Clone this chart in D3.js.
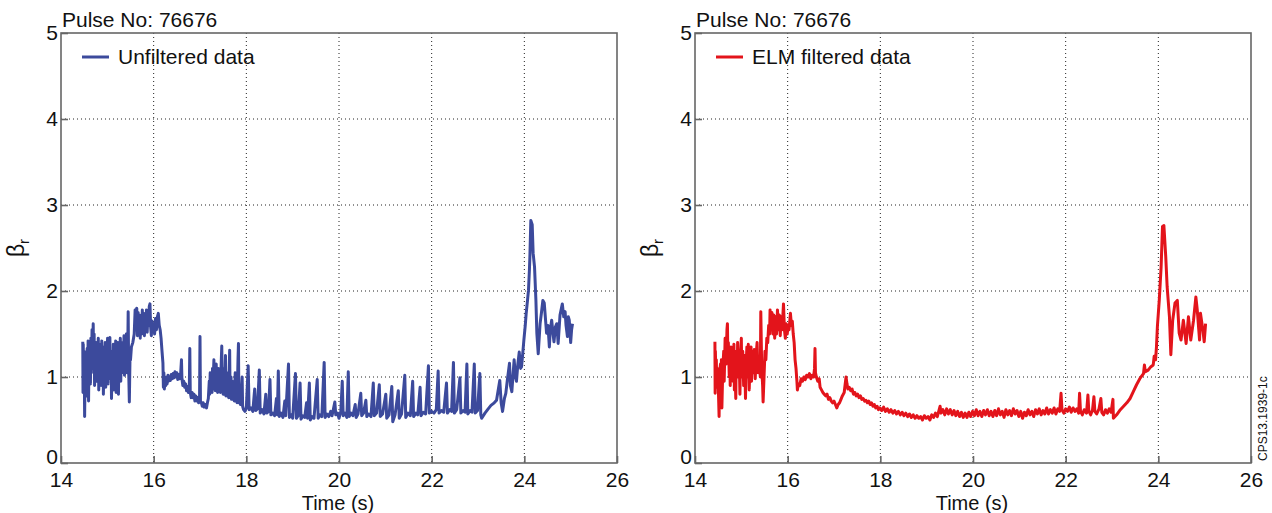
<!DOCTYPE html>
<html>
<head>
<meta charset="utf-8">
<script src="https://d3js.org/d3.v7.min.js"></script>
<style>
  body { margin: 0; background: #fff; }
  text { font-family: "Liberation Sans", Arial, sans-serif; fill: #111; }
</style>
</head>
<body>
<div id="chart"></div>
<script>
// ---- data (time in s, beta_r) ----
const pulseLabel = 'Pulse No: 76676';
const xTicks = [14, 16, 18, 20, 22, 24, 26];
const yTicks = [0, 1, 2, 3, 4, 5];

const unfiltered = [
  [14.47,1.41],[14.475,0.82],[14.48,1.38],[14.49,0.95],[14.50,1.30],[14.51,0.54],[14.52,1.05],[14.53,0.88],[14.545,1.20],[14.555,0.78],
  [14.565,1.33],[14.575,0.95],[14.585,1.42],[14.595,0.72],[14.605,1.25],[14.615,1.00],[14.625,1.38],[14.635,0.92],[14.645,1.45],[14.655,1.05],
  [14.67,1.55],[14.68,1.10],[14.695,1.62],[14.705,1.15],[14.715,1.50],[14.725,0.90],[14.735,1.35],[14.745,1.02],[14.76,1.40],[14.77,0.95],
  [14.78,1.30],[14.79,1.05],[14.805,1.45],[14.815,0.85],[14.83,1.28],[14.84,0.98],[14.855,1.38],[14.865,0.90],[14.88,1.42],[14.89,1.05],
  [14.905,1.35],[14.915,0.80],[14.93,1.30],[14.94,1.00],[14.955,1.40],[14.965,0.88],[14.98,1.32],[14.99,1.02],[15.005,1.45],[15.015,0.92],
  [15.03,1.35],[15.04,0.98],[15.055,1.46],[15.065,1.00],[15.08,1.30],[15.09,0.75],[15.105,1.25],[15.115,0.95],[15.13,1.38],[15.14,0.85],
  [15.155,1.30],[15.165,1.00],[15.18,1.42],[15.19,0.82],[15.205,1.28],[15.215,1.05],[15.23,1.40],[15.24,0.80],[15.255,1.35],[15.265,1.00],
  [15.28,1.45],[15.29,0.95],[15.305,1.38],[15.315,1.05],[15.33,1.40],[15.345,1.10],[15.36,1.48],[15.37,1.02],[15.385,1.35],[15.395,1.10],
  [15.41,1.50],[15.425,1.05],[15.44,1.30],[15.45,1.76],[15.46,1.10],[15.475,0.71],[15.49,1.25],[15.50,1.20],[15.52,1.35],[15.55,1.40],
  [15.58,1.50],[15.60,1.78],[15.62,1.55],[15.635,1.80],[15.65,1.48],[15.665,1.75],[15.68,1.52],[15.695,1.72],[15.71,1.45],[15.725,1.70],
  [15.74,1.50],[15.755,1.78],[15.77,1.55],[15.785,1.74],[15.80,1.48],[15.815,1.72],[15.83,1.55],[15.845,1.78],[15.86,1.52],[15.875,1.70],
  [15.89,1.60],[15.905,1.82],[15.92,1.85],[15.935,1.58],[15.95,1.48],[15.965,1.65],[15.98,1.55],[16.00,1.62],[16.02,1.50],[16.04,1.68],
  [16.06,1.55],[16.08,1.70],[16.10,1.74],[16.12,1.60],[16.14,1.55],[16.16,1.45],[16.18,1.30],[16.20,1.16],
  [16.21,0.88],[16.22,1.05],[16.23,0.86],[16.25,0.98],[16.26,0.90],[16.28,1.00],[16.29,0.92],[16.31,1.02],[16.32,0.95],[16.34,1.00],
  [16.36,0.96],[16.38,1.03],[16.40,0.98],[16.42,1.04],[16.44,0.99],[16.46,1.06],[16.48,1.00],[16.50,1.05],[16.52,0.97],[16.54,1.03],
  [16.56,0.98],[16.58,1.02],[16.60,1.20],[16.61,0.98],[16.63,0.90],[16.65,0.95],[16.67,0.88],[16.69,0.92],[16.71,0.84],[16.73,0.89],
  [16.75,0.82],[16.77,0.90],[16.78,1.33],[16.79,0.82],[16.81,0.76],[16.83,0.82],[16.85,0.76],[16.87,0.80],[16.89,0.72],[16.91,0.78],
  [16.93,0.72],[16.95,0.76],[16.97,0.70],[16.99,0.74],[17.00,1.47],[17.01,0.72],[17.03,0.70],[17.05,0.66],[17.07,0.70],[17.09,0.65],
  [17.11,0.68],[17.14,0.64],[17.16,0.70],[17.18,0.75],[17.20,0.95],[17.21,0.80],[17.22,1.05],[17.23,0.85],[17.25,1.00],[17.26,0.82],
  [17.27,1.10],[17.28,0.88],[17.30,1.20],[17.31,0.86],[17.32,1.05],[17.33,0.84],[17.35,1.15],[17.36,0.86],[17.37,1.00],[17.38,0.82],
  [17.40,1.10],[17.41,0.84],[17.43,0.98],[17.44,0.82],[17.46,1.20],[17.47,1.36],[17.48,0.88],[17.49,1.05],[17.50,0.80],[17.52,1.10],
  [17.53,0.80],[17.55,1.25],[17.56,0.78],[17.58,1.05],[17.59,0.78],[17.61,0.95],[17.62,0.76],[17.64,1.31],[17.65,0.76],[17.67,1.00],
  [17.68,0.74],[17.70,0.95],[17.71,0.74],[17.73,0.90],[17.74,0.72],[17.76,1.05],[17.77,0.72],[17.79,0.88],[17.80,0.70],[17.82,1.20],
  [17.83,1.39],[17.84,0.70],[17.86,0.90],[17.87,0.68],[17.89,0.80],[17.91,1.00],[17.92,0.66],[17.94,0.62],[17.97,0.60],
  [18.00,0.64],[18.04,1.13],[18.06,0.62],[18.10,0.64],
  [18.14,0.60],[18.18,0.86],[18.20,0.61],[18.24,0.63],[18.28,1.08],[18.30,0.58],[18.34,0.62],[18.38,0.57],[18.42,0.80],[18.44,0.58],
  [18.48,0.60],[18.51,0.97],[18.53,0.56],[18.57,0.58],[18.61,0.55],[18.65,0.75],[18.67,0.56],[18.69,1.07],[18.71,0.54],[18.75,0.58],
  [18.79,0.53],[18.83,0.72],[18.85,0.55],[18.91,1.15],[18.93,0.53],[18.97,0.56],[19.00,0.52],[19.06,1.04],[19.08,0.52],[19.12,0.55],
  [19.16,0.93],[19.18,0.51],[19.22,0.55],[19.26,0.53],[19.30,0.70],[19.32,0.52],[19.36,0.93],[19.38,0.50],[19.42,0.54],[19.46,0.52],
  [19.53,0.97],[19.55,0.52],[19.59,0.56],[19.63,0.54],[19.68,1.17],[19.70,0.53],[19.74,0.57],[19.78,0.54],[19.82,0.60],[19.85,0.55],
  [19.91,0.71],[19.93,0.56],[19.97,0.58],[20.00,0.52],[20.04,0.60],[20.07,0.95],[20.09,0.55],[20.13,0.58],[20.17,0.53],[20.20,1.06],
  [20.22,0.54],[20.26,0.58],[20.30,0.55],[20.35,0.68],[20.37,0.53],[20.41,0.57],[20.47,0.81],[20.49,0.55],[20.53,0.58],[20.58,0.73],
  [20.60,0.54],[20.64,0.57],[20.69,0.54],[20.74,0.93],[20.76,0.55],[20.81,0.58],[20.87,0.91],[20.89,0.54],[20.94,0.57],[21.01,0.80],
  [21.03,0.52],[21.08,0.56],[21.14,0.89],[21.16,0.48],[21.21,0.56],[21.28,0.84],[21.30,0.52],[21.35,0.57],[21.42,1.02],[21.44,0.53],
  [21.49,0.58],[21.54,0.55],[21.59,0.95],[21.61,0.54],[21.66,0.58],[21.70,0.56],[21.75,0.88],[21.77,0.55],[21.82,0.59],[21.87,0.57],
  [21.93,1.13],[21.95,0.58],[22.00,0.60],[22.05,0.58],[22.10,0.62],[22.14,1.07],[22.16,0.58],[22.21,0.61],[22.26,0.59],[22.32,0.93],
  [22.34,0.58],[22.39,0.62],[22.43,0.60],[22.47,1.17],[22.49,0.58],[22.54,0.62],[22.61,0.99],[22.63,0.58],[22.68,0.61],[22.72,0.59],
  [22.76,1.15],[22.78,0.57],[22.83,0.61],[22.87,0.59],[22.92,1.15],[22.94,0.58],[22.99,0.61],[23.04,1.04],[23.06,0.56],[23.08,0.52],
  [23.15,0.58],[23.22,0.63],[23.28,0.67],[23.35,0.70],[23.40,0.73],[23.47,0.96],[23.50,0.70],[23.53,0.60],[23.57,0.75],[23.60,0.81],
  [23.63,0.95],[23.68,1.16],[23.70,0.90],[23.73,0.83],[23.76,1.05],[23.78,1.20],[23.81,1.00],[23.83,0.95],[23.86,1.15],[23.89,1.29],
  [23.92,1.10],[23.94,1.12],[23.97,1.30],[23.99,1.43],[24.02,1.60],[24.04,1.74],[24.07,1.90],[24.09,2.01],[24.11,2.25],[24.12,2.40],
  [24.14,2.82],[24.17,2.77],[24.19,2.44],[24.22,2.28],[24.25,1.89],[24.27,1.51],[24.30,1.27],[24.34,1.62],[24.37,1.75],[24.40,1.89],
  [24.43,1.86],[24.46,1.65],[24.48,1.51],[24.51,1.60],[24.54,1.35],[24.56,1.55],[24.59,1.66],[24.62,1.50],[24.64,1.41],[24.67,1.58],
  [24.70,1.62],[24.73,1.39],[24.77,1.72],[24.80,1.80],[24.82,1.85],[24.85,1.70],[24.88,1.76],[24.90,1.60],[24.93,1.47],[24.95,1.70],
  [24.97,1.66],[25.00,1.40],[25.02,1.55],[25.04,1.62]
];

const filtered = [
  [14.43,1.41],[14.435,0.81],[14.44,1.30],[14.45,1.00],[14.46,1.20],[14.47,0.88],[14.48,1.10],[14.50,0.95],[14.52,0.54],[14.53,1.05],
  [14.55,1.15],[14.56,0.90],[14.57,1.20],[14.58,0.64],[14.60,1.10],[14.62,1.30],[14.63,0.95],[14.65,1.45],[14.67,1.15],[14.69,1.55],
  [14.70,1.62],[14.71,1.20],[14.72,1.40],[14.74,1.00],[14.75,1.25],[14.76,0.90],[14.78,1.35],[14.79,1.05],[14.81,1.30],[14.82,0.95],
  [14.84,1.38],[14.85,0.85],[14.86,1.20],[14.88,0.75],[14.89,1.30],[14.91,1.00],[14.92,1.40],[14.94,1.05],[14.95,1.30],[14.97,0.80],
  [14.98,1.20],[15.00,1.45],[15.01,1.00],[15.03,1.30],[15.05,0.90],[15.07,1.25],[15.09,0.75],[15.10,1.10],[15.12,1.35],[15.14,1.00],
  [15.15,1.38],[15.17,0.85],[15.19,1.20],[15.21,1.35],[15.22,0.95],[15.24,1.30],[15.26,1.05],[15.28,1.32],[15.30,0.98],[15.32,1.25],
  [15.34,1.40],[15.36,1.05],[15.38,1.20],[15.41,1.00],[15.42,1.76],[15.44,1.10],[15.46,0.90],[15.47,0.71],[15.49,1.00],[15.51,1.30],
  [15.53,1.20],[15.55,1.45],[15.57,1.40],[15.59,1.60],[15.61,1.50],[15.62,1.78],[15.64,1.55],[15.66,1.75],[15.68,1.50],[15.70,1.72],
  [15.72,1.45],[15.74,1.70],[15.76,1.50],[15.78,1.78],[15.80,1.55],[15.82,1.72],[15.84,1.48],[15.86,1.70],[15.88,1.55],[15.91,1.85],
  [15.93,1.55],[15.95,1.45],[15.97,1.62],[15.99,1.50],[16.01,1.60],[16.03,1.55],[16.06,1.74],[16.08,1.60],[16.10,1.65],[16.12,1.50],
  [16.14,1.40],[16.16,1.20],[16.18,1.10],[16.20,0.95],[16.21,0.85],[16.23,0.92],[16.26,0.90],[16.29,0.98],[16.32,0.95],[16.35,1.00],
  [16.38,0.97],[16.41,1.02],[16.44,1.00],[16.47,1.04],[16.50,0.98],[16.53,1.02],[16.56,1.00],[16.58,1.10],[16.59,1.33],[16.60,1.05],
  [16.62,1.00],[16.65,0.95],[16.68,0.98],[16.70,0.88],[16.73,0.85],[16.76,0.82],[16.79,0.80],[16.82,0.78],[16.85,0.80],[16.88,0.74],
  [16.91,0.76],[16.94,0.72],[16.97,0.70],[17.00,0.72],[17.03,0.68],[17.06,0.64],[17.09,0.68],[17.12,0.70],[17.15,0.74],[17.18,0.78],
  [17.22,0.82],[17.26,1.00],[17.28,0.92],[17.30,0.86],[17.33,0.88],[17.36,0.84],[17.39,0.86],[17.42,0.80],[17.45,0.82],[17.48,0.78],
  [17.51,0.80],[17.54,0.76],[17.57,0.78],[17.60,0.74],[17.63,0.75],[17.66,0.72],[17.69,0.73],[17.72,0.70],[17.75,0.72],[17.78,0.68],
  [17.81,0.70],[17.84,0.66],[17.87,0.68],[17.90,0.64],[17.93,0.66],[17.96,0.62],[17.99,0.64],[18.03,0.61],[18.07,0.65],[18.11,0.60],
  [18.15,0.63],[18.19,0.59],[18.23,0.62],[18.27,0.58],[18.31,0.61],[18.35,0.57],[18.39,0.60],[18.43,0.56],[18.47,0.59],[18.51,0.55],
  [18.55,0.58],[18.59,0.54],[18.63,0.57],[18.67,0.53],[18.71,0.56],[18.75,0.52],[18.79,0.55],[18.83,0.52],[18.87,0.54],[18.91,0.50],
  [18.95,0.55],[18.99,0.52],[19.03,0.54],[19.07,0.50],[19.11,0.56],[19.15,0.53],[19.19,0.58],[19.23,0.54],[19.27,0.62],[19.29,0.66],
  [19.31,0.58],[19.35,0.62],[19.39,0.56],[19.43,0.63],[19.47,0.57],[19.51,0.62],[19.55,0.56],[19.59,0.61],[19.63,0.55],[19.67,0.60],
  [19.71,0.54],[19.75,0.59],[19.79,0.53],[19.83,0.58],[19.87,0.53],[19.91,0.59],[19.95,0.54],[19.99,0.60],[20.03,0.55],[20.07,0.62],
  [20.11,0.55],[20.15,0.60],[20.19,0.54],[20.23,0.61],[20.27,0.56],[20.31,0.62],[20.35,0.55],[20.39,0.60],[20.43,0.54],[20.47,0.61],
  [20.51,0.55],[20.55,0.63],[20.59,0.56],[20.63,0.60],[20.67,0.53],[20.71,0.62],[20.75,0.56],[20.79,0.61],[20.83,0.55],[20.87,0.63],
  [20.91,0.57],[20.95,0.61],[20.99,0.54],[21.03,0.60],[21.07,0.52],[21.11,0.59],[21.15,0.55],[21.19,0.62],[21.23,0.56],[21.27,0.60],
  [21.31,0.54],[21.35,0.62],[21.39,0.57],[21.43,0.63],[21.47,0.56],[21.51,0.61],[21.55,0.57],[21.59,0.64],[21.63,0.57],[21.67,0.62],
  [21.71,0.58],[21.75,0.64],[21.79,0.57],[21.83,0.63],[21.87,0.60],[21.90,0.81],[21.92,0.62],[21.96,0.58],[22.00,0.63],[22.04,0.60],
  [22.08,0.65],[22.12,0.59],[22.16,0.64],[22.20,0.60],[22.24,0.63],[22.28,0.58],[22.30,0.81],[22.32,0.60],[22.36,0.56],[22.40,0.62],
  [22.45,0.58],[22.48,0.79],[22.50,0.60],[22.54,0.56],[22.58,0.62],[22.61,0.77],[22.63,0.60],[22.67,0.57],[22.72,0.63],[22.76,0.75],
  [22.78,0.59],[22.82,0.56],[22.86,0.62],[22.90,0.58],[22.94,0.63],[22.98,0.59],[23.02,0.74],[23.03,0.52],[23.10,0.56],[23.18,0.62],
  [23.25,0.66],[23.32,0.70],[23.39,0.75],[23.46,0.83],[23.53,0.91],[23.60,0.98],[23.68,1.04],[23.70,1.14],[23.72,1.06],[23.78,1.08],
  [23.84,1.12],[23.89,1.14],[23.91,1.24],[23.94,1.20],[23.96,1.35],[23.98,1.59],[24.02,1.89],[24.06,2.28],[24.09,2.75],[24.12,2.76],
  [24.16,2.40],[24.19,2.05],[24.24,1.70],[24.27,1.26],[24.31,1.66],[24.36,1.86],[24.41,1.89],[24.45,1.51],[24.49,1.43],[24.54,1.66],
  [24.60,1.39],[24.65,1.70],[24.70,1.43],[24.76,1.66],[24.81,1.93],[24.84,1.78],[24.89,1.43],[24.91,1.74],[24.96,1.55],[24.99,1.41],
  [25.02,1.62]
];

const panels = [
  { left: 61,  name: 'Unfiltered data',   values: unfiltered, color: '#3c4a9c' },
  { left: 695, name: 'ELM filtered data', values: filtered,   color: '#e3141b' }
];

const width = 1272, height = 513;
const plotW = 556, plotTop = 33, plotBottom = 463;

const svg = d3.select('#chart')
  .append('svg')
  .attr('width', width)
  .attr('height', height);

panels.forEach(p => {
  const x = d3.scaleLinear().domain([14, 26]).range([p.left, p.left + plotW]);
  const y = d3.scaleLinear().domain([0, 5]).range([plotBottom, plotTop]);
  const g = svg.append('g');

  // dotted grid
  g.selectAll('.vgrid')
    .data(xTicks.slice(1, -1))
    .enter().append('line')
    .attr('x1', d => x(d)).attr('x2', d => x(d))
    .attr('y1', plotTop).attr('y2', plotBottom)
    .attr('stroke', '#222').attr('stroke-width', 1)
    .attr('stroke-dasharray', '1,3');

  g.selectAll('.hgrid')
    .data(yTicks.slice(1, -1))
    .enter().append('line')
    .attr('x1', p.left).attr('x2', p.left + plotW)
    .attr('y1', d => y(d)).attr('y2', d => y(d))
    .attr('stroke', '#222').attr('stroke-width', 1)
    .attr('stroke-dasharray', '1,3');

  // the trace
  const line = d3.line().x(d => x(d[0])).y(d => y(d[1]));
  g.append('path')
    .datum(p.values)
    .attr('d', line)
    .attr('fill', 'none')
    .attr('stroke', p.color)
    .attr('stroke-width', 3)
    .attr('stroke-linejoin', 'round');

  // axes (ticks pointing inward)
  const xAxis = d3.axisBottom(x).tickValues(xTicks).tickSize(-7).tickPadding(9).tickFormat(d3.format('d'));
  const gx = g.append('g').attr('transform', `translate(0,${plotBottom})`).call(xAxis);
  const yAxis = d3.axisLeft(y).tickValues(yTicks).tickSize(-7).tickPadding(3).tickFormat(d3.format('d'));
  const gy = g.append('g').attr('transform', `translate(${p.left},0)`).call(yAxis);
  [gx, gy].forEach(a => {
    a.select('.domain').remove();
    a.selectAll('line').attr('stroke', '#666').attr('stroke-width', 1.6);
    a.selectAll('text')
      .style('font-family', '"Liberation Sans", Arial, sans-serif')
      .style('font-size', '21px').attr('fill', '#111');
  });
  // zero label sits a little above its tick, clear of the x labels
  gy.selectAll('text').attr('dy', d => d === 0 ? '0.0em' : '0.33em');

  // frame
  g.append('rect')
    .attr('x', p.left).attr('y', plotTop)
    .attr('width', plotW).attr('height', plotBottom - plotTop)
    .attr('fill', 'none').attr('stroke', '#666').attr('stroke-width', 1.6);

  // pulse number
  g.append('text')
    .attr('x', p.left + 1).attr('y', 27)
    .style('font-size', '21px')
    .text(pulseLabel);

  // legend
  g.append('line')
    .attr('x1', p.left + 21).attr('x2', p.left + 48)
    .attr('y1', 57).attr('y2', 57)
    .attr('stroke', p.color).attr('stroke-width', 3);
  g.append('text')
    .attr('x', p.left + 57).attr('y', 64)
    .style('font-size', '21px')
    .text(p.name);

  // axis titles
  g.append('text')
    .attr('x', p.left + plotW / 2 - 1).attr('y', 510)
    .attr('text-anchor', 'middle')
    .style('font-size', '20px')
    .text('Time (s)');

  const yl = g.append('text')
    .attr('transform', `translate(${p.left - 37},${(plotTop + plotBottom) / 2}) rotate(-90)`)
    .attr('text-anchor', 'middle')
    .style('font-size', '23px');
  yl.append('tspan').text('β');
  yl.append('tspan').attr('dy', 5).style('font-size', '15px').text('r');
});

// figure reference tag
svg.append('text')
  .attr('transform', 'translate(1267,461) rotate(-90)')
  .style('font-size', '12px')
  .text('CPS13.1939-1c');
</script>
</body>
</html>
